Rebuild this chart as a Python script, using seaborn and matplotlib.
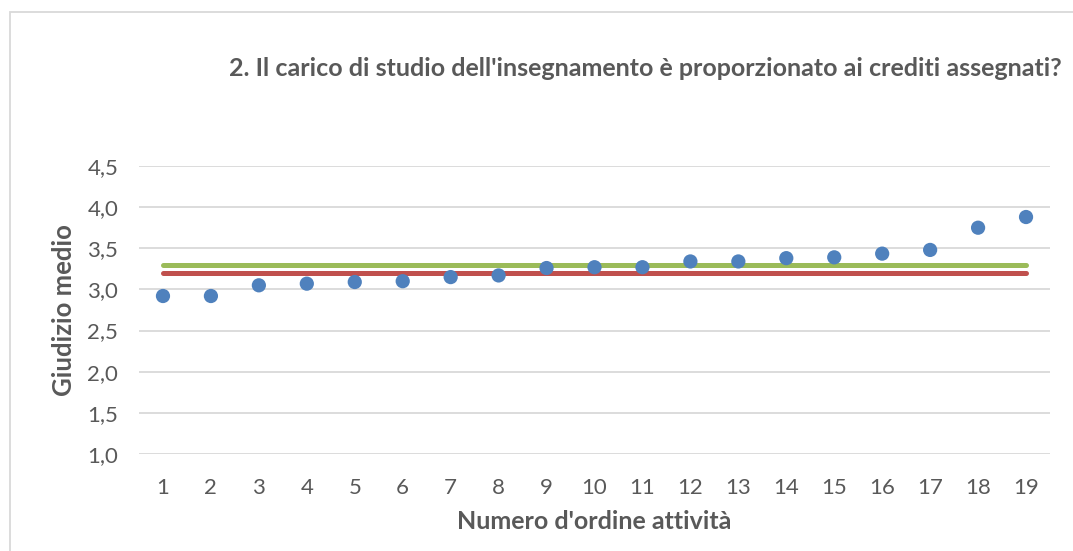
import matplotlib
matplotlib.use("Agg")
import matplotlib.pyplot as plt
import seaborn as sns
import pandas as pd
from matplotlib.ticker import FuncFormatter
from matplotlib.patches import Rectangle

activities = list(range(1, 20))
giudizio = [2.92, 2.92, 3.05, 3.07, 3.09, 3.10, 3.15, 3.17, 3.26, 3.27,
            3.27, 3.34, 3.34, 3.38, 3.39, 3.435, 3.48, 3.75, 3.88]
green_level = 3.30
red_level = 3.20
title = "2. Il carico di studio dell'insegnamento è proporzionato ai crediti assegnati?"
xlabel = "Numero d'ordine attività"
ylabel = "Giudizio medio"

sns.set_theme(style="white")
plt.rcParams['font.family'] = ['Lato', 'DejaVu Sans']

W, H = 1073, 551
fig = plt.figure(figsize=(W / 100, H / 100), dpi=100)
ax = fig.add_axes([139 / W, 1 - 454 / H, (1050 - 139) / W, (454 - 166) / H])

text_color = "#595959"
df = pd.DataFrame({"x": activities, "y": giudizio})
ends = [activities[0], activities[-1]]
sns.lineplot(x=ends, y=[green_level, green_level], ax=ax, color="#9bbb59",
             linewidth=3.6, solid_capstyle="round", zorder=2)
sns.lineplot(x=ends, y=[red_level, red_level], ax=ax, color="#c0504d",
             linewidth=3.6, solid_capstyle="round", zorder=2)
sns.scatterplot(data=df, x="x", y="y", ax=ax, color="#4f81bd", s=105,
                edgecolor="none", zorder=3)

ax.set_xlim(0.5, 19.5)
ax.set_ylim(1.0, 4.5)
ax.set_xticks(activities)
ax.set_yticks([1.0, 1.5, 2.0, 2.5, 3.0, 3.5, 4.0, 4.5])
ax.yaxis.set_major_formatter(FuncFormatter(lambda v, p: f"{v:.1f}".replace(".", ",")))
ax.grid(axis="y", color="#d9d9d9", linewidth=1.3)
ax.set_axisbelow(True)
for s in ax.spines.values():
    s.set_visible(False)
ax.tick_params(axis="both", length=0, labelsize=16, colors=text_color)
ax.tick_params(axis="y", pad=15)
ax.tick_params(axis="x", pad=17)
ax.set_xlabel(xlabel, fontsize=18, fontweight="bold", color=text_color, labelpad=9)
ax.set_ylabel(ylabel, fontsize=18.5, fontweight="bold", color=text_color, labelpad=8)

fig.text(645 / W, 1 - 68 / H, title, ha="center", va="center",
         fontsize=18, fontweight="bold", color=text_color)

fig.patches.append(Rectangle((10 / W, -0.1), 1.2, 1 - 12 / H + 0.1,
                             transform=fig.transFigure, fill=False,
                             edgecolor="#d9d9d9", linewidth=1.3))

fig.savefig("out.png", dpi=100)
